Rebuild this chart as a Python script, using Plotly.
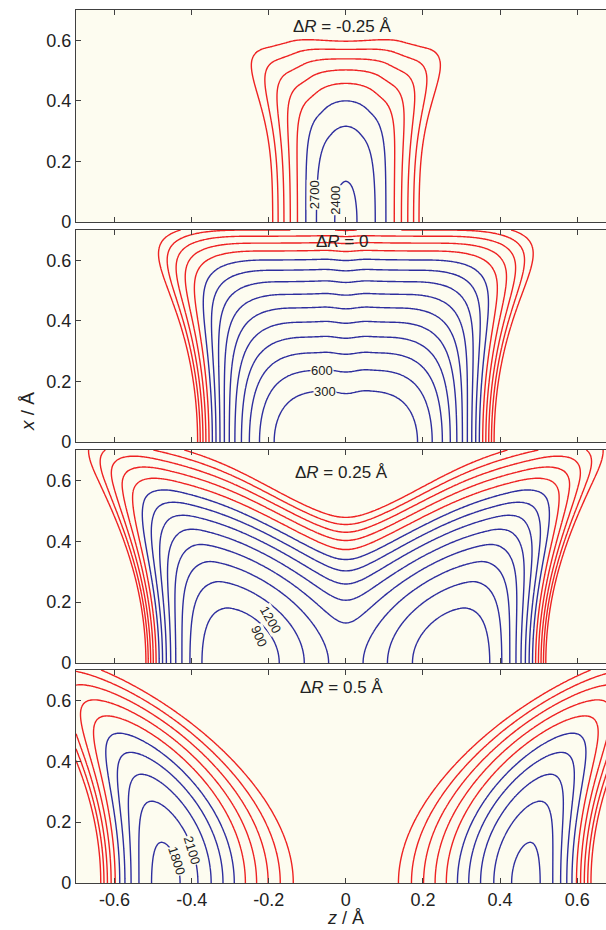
import numpy as np
import plotly.graph_objects as go

# ---------------- values ----------------
PANEL_TITLES = ["Δ<i>R</i> = -0.25 Å", "Δ<i>R</i> = 0", "Δ<i>R</i> = 0.25 Å", "Δ<i>R</i> = 0.5 Å"]
LEVEL_START, LEVEL_END, LEVEL_STEP = 300, 4500, 300
BLUE_MAX_LEVEL = 3000          # levels up to this are blue, higher ones red

# per-panel parameters of the two-well proton potential (cm^-1, Å)
WELL_Z   = [0.00, 0.06, 0.29, 0.47]      # well position on the z axis
PIVOT_C  = [0.90, 1.30, 1.50, 1.55]      # pivot distance, repulsive side
PIVOT_S  = [1.30, 100.0, 1.00, 1.55]     # pivot distance, stretching side
E_OFFSET = [3850, 0, 700, 1743]
COUPLING = [1500, 133, 464, 500]
COMP_D   = [60000, 1014, 1217, 49000]
COMP_A   = [1.0, 3.5, 4.5, 1.3]
STR_D    = [60000, 39300, 10950, 6262]
STR_A    = [1.0, 1.0, 1.5, 3.4]
BEND_K   = [2601, 12215, 7800, 5600]     # x^2
BEND_Q   = [0, 20203, 3070, 1000]        # -x^4
BEND_S   = [7165, 26164, 0, 0]           # x^6
CENTER_B = [0, 0, 8000, 0]               # extra x^4 stiffness on the barrier top
CENTER_W = [0.2, 0.2, 0.2, 0.2]

X_TICKS = [-0.6, -0.4, -0.2, 0, 0.2, 0.4, 0.6]
X_TICK_TEXT = ["-0.6", "-0.4", "-0.2", "0", "0.2", "0.4", "0.6"]
Y_TICKS = [0, 0.2, 0.4, 0.6]
Y_TICK_TEXT = ["0", "0.2", "0.4", "0.6"]

LABEL_TEXT = [["2700", "2400"], ["600", "300"], ["1200", "900"], ["2100", "1800"]]

# ---------------- styling / placement ----------------
LABEL_PLACE = [[(-0.082, 0.089, -90), (-0.026, 0.073, -90)],
               [(-0.062, 0.236, 0), (-0.054, 0.167, 0)],
               [(-0.196, 0.142, 60), (-0.225, 0.087, 67)],
               [(-0.3995, 0.106, 73), (-0.438, 0.075, 72)]]
TITLE_Y = [0.646, 0.662, 0.626, 0.642]

BG = "#FDFCF0"
BLUE = "#2E2E9E"
RED = "#EE2222"
AXC = "#404040"
FONT = "Liberation Sans, Arial, Helvetica, sans-serif"

W, H = 606, 930
ML, MR, MT, MB = 76, 0, 10, 47
PANEL_PX = [(10, 222), (230, 442), (450, 663), (670, 883)]
plot_h = H - MT - MB

z_grid = np.linspace(-0.7, 0.7, 351)
x_grid = np.linspace(0.0, 0.7, 176)
ZZ, XX = np.meshgrid(z_grid, x_grid)


def diabat(i, zc, xx):
    z0 = WELL_Z[i]
    pc, ps = PIVOT_C[i], PIVOT_S[i]
    rc = np.sqrt((zc + pc) ** 2 + xx ** 2) - (pc - z0)
    rs = np.sqrt((zc + ps) ** 2 + xx ** 2) - (ps - z0)
    fc = np.where(rc < 0, COMP_D[i] * (np.exp(-COMP_A[i] * np.minimum(rc, 0)) - 1) ** 2, 0.0)
    fs = np.where(rs > 0, STR_D[i] * (1 - np.exp(-STR_A[i] * np.maximum(rs, 0))) ** 2, 0.0)
    return fc + fs


def surface(i):
    fl = diabat(i, ZZ, XX)
    fr = diabat(i, -ZZ, XX)
    bend = BEND_K[i] * XX ** 2 - BEND_Q[i] * XX ** 4 + BEND_S[i] * XX ** 6
    center = CENTER_B[i] * XX ** 4 * np.exp(-(ZZ / CENTER_W[i]) ** 2)
    v = (E_OFFSET[i] + bend + center
         + 0.5 * (fl + fr) - np.sqrt((0.5 * (fl - fr)) ** 2 + COUPLING[i] ** 2))
    return np.round(np.minimum(v, 20000), 1)


brk = (BLUE_MAX_LEVEL + LEVEL_STEP / 2 - LEVEL_START) / (LEVEL_END - LEVEL_START)
cscale = [[0, BLUE], [brk, BLUE], [brk, RED], [1, RED]]

fig = go.Figure()
layout = dict(width=W, height=H, margin=dict(l=ML, r=MR, t=MT, b=MB),
              paper_bgcolor="white", plot_bgcolor=BG, showlegend=False,
              font=dict(family=FONT, size=18, color="#222"))
annotations = []

for i in range(4):
    top_px, bot_px = PANEL_PX[i]
    d0 = (H - MB - bot_px) / plot_h
    d1 = (H - MB - top_px) / plot_h
    xa = "x" if i == 0 else f"x{i + 1}"
    ya = "y" if i == 0 else f"y{i + 1}"
    fig.add_trace(go.Contour(
        x=z_grid, y=x_grid, z=surface(i), xaxis=xa, yaxis=ya,
        contours=dict(start=LEVEL_START, end=LEVEL_END, size=LEVEL_STEP, coloring="lines"),
        colorscale=cscale, zauto=False, zmin=LEVEL_START, zmax=LEVEL_END,
        line=dict(width=1.4, smoothing=1), showscale=False, hoverinfo="skip"))
    xkey = "xaxis" if i == 0 else f"xaxis{i + 1}"
    ykey = "yaxis" if i == 0 else f"yaxis{i + 1}"
    layout[xkey] = dict(domain=[0, 1], anchor=ya, range=[-0.7, 0.6748],
                        tickvals=X_TICKS, ticktext=X_TICK_TEXT, showticklabels=(i == 3),
                        ticks="inside", ticklen=5, tickwidth=1.2, tickcolor=AXC,
                        showline=True, linecolor=AXC, linewidth=1.3, mirror="ticks",
                        showgrid=False, zeroline=False,
                        tickfont=dict(size=18, color="#222", family=FONT))
    layout[ykey] = dict(domain=[d0, d1], anchor=xa, range=[0, 0.7],
                        tickvals=Y_TICKS, ticktext=Y_TICK_TEXT,
                        ticks="inside", ticklen=5, tickwidth=1.2, tickcolor=AXC,
                        showline=True, linecolor=AXC, linewidth=1.3, mirror=False,
                        showgrid=False, zeroline=False,
                        tickfont=dict(size=18, color="#222", family=FONT))
    annotations.append(dict(text=PANEL_TITLES[i], x=-0.011, y=TITLE_Y[i], xref=xa, yref=ya,
                            showarrow=False, xanchor="center", yanchor="middle",
                            font=dict(size=17, color="#222", family=FONT)))
    for txt, (lx, ly, ang) in zip(LABEL_TEXT[i], LABEL_PLACE[i]):
        annotations.append(dict(text=txt, x=lx, y=ly, xref=xa, yref=ya, showarrow=False,
                                textangle=ang, bgcolor=BG, borderpad=0,
                                font=dict(size=13, color="#222", family=FONT)))

annotations.append(dict(text="<i>x</i> / Å", x=(27 - ML) / (W - ML - MR), y=(H - MB - 412) / plot_h,
                        xref="paper", yref="paper", showarrow=False, textangle=-90,
                        xanchor="center", yanchor="middle",
                        font=dict(size=19, color="#222", family=FONT)))
annotations.append(dict(text="<i>z</i> / Å", x=(345.7 - ML) / (W - ML - MR), y=(H - MB - 930) / plot_h,
                        xref="paper", yref="paper", showarrow=False,
                        xanchor="center", yanchor="bottom",
                        font=dict(size=18, color="#222", family=FONT)))
layout["annotations"] = annotations
fig.update_layout(**layout)
fig.write_html("out.html")
